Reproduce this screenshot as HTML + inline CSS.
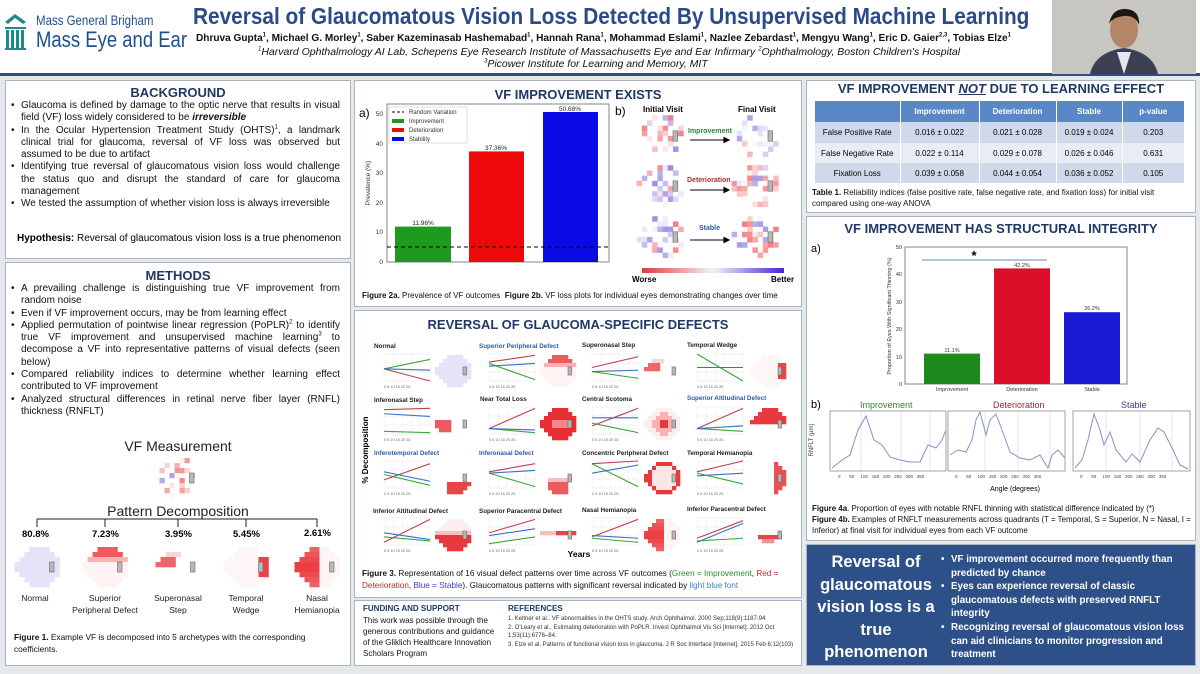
<!DOCTYPE html>
<html><head><meta charset="utf-8">
<style>
*{margin:0;padding:0;box-sizing:border-box}
body{width:1200px;height:674px;overflow:hidden;background:#e6e9ec;font-family:"Liberation Sans",sans-serif;position:relative}
sup{line-height:0}
.p{position:absolute;background:#fff;border:1.5px solid #a9b4c0}
.t{position:absolute;white-space:nowrap}
.h{position:absolute;font-weight:bold;color:#1f3864;font-size:13px;text-align:center;white-space:nowrap}
ul{position:absolute;list-style:none;font-size:10px;line-height:12.3px;color:#111}
ul li{padding-left:11px;position:relative;text-align:justify}
ul li:before{content:"•";position:absolute;left:1px}
.cap{position:absolute;font-size:8.3px;line-height:11.5px;color:#111}
svg{position:absolute;left:0;top:0}
</style></head><body>
<!-- header -->
<div style="position:absolute;left:0;top:0;width:1200px;height:74px;background:#fff"></div>
<div style="position:absolute;left:0;top:73px;width:1200px;height:3px;background:#2d4e7f"></div>
<div class="p" style="left:5px;top:80px;width:346px;height:179px"></div>
<div class="p" style="left:5px;top:262px;width:346px;height:404px"></div>
<div class="p" style="left:354px;top:80px;width:448px;height:227px"></div>
<div class="p" style="left:354px;top:310px;width:448px;height:288px"></div>
<div class="p" style="left:354px;top:600px;width:448px;height:66px"></div>
<div class="p" style="left:806px;top:80px;width:390px;height:133px"></div>
<div class="p" style="left:806px;top:216px;width:390px;height:325px"></div>
<div style="position:absolute;left:806px;top:544px;width:390px;height:122px;background:#2d5089;border:1.5px solid #a9b4c0"></div>

<svg width="1200" height="674" id="g">
<g fill="#1f8a8a"><rect x="6" y="30" width="3" height="18"/><rect x="11" y="30" width="3" height="18"/><rect x="16" y="30" width="3" height="18"/><rect x="21" y="30" width="3" height="18"/><rect x="5" y="27" width="21" height="2"/><polygon points="5,22 15,14 26,22 23,24 15,18 8,24"/><rect x="5" y="48" width="21" height="2"/></g>
<rect x="1052" y="0" width="144" height="74" fill="#b9bab4"/>
<rect x="1052" y="0" width="144" height="74" fill="#d0cfc8" opacity=".6"/>
<path d="M1090 74 Q1095 52 1124 48 Q1153 52 1158 74Z" fill="#3b4152"/>
<polygon points="1117,52 1124,74 1131,52" fill="#e6e8ee"/>
<ellipse cx="1124" cy="30" rx="14" ry="18" fill="#b48668"/>
<path d="M1109 24 Q1112 8 1126 9 Q1140 10 1139 25 Q1135 15 1124 16 Q1113 17 1109 24Z" fill="#1d1714"/>
</svg>

<div class="t" style="left:36px;top:12px;font-size:14px;color:#1e4f8c;transform:scaleX(.82);transform-origin:left">Mass General Brigham</div>
<div class="t" style="left:36px;top:27px;font-size:22px;color:#1e4f8c;transform:scaleX(.84);transform-origin:left">Mass Eye and Ear</div>
<div class="t" style="left:193px;top:3px;font-size:23.5px;font-weight:bold;color:#2b4a8a;transform:scaleX(.885);transform-origin:left">Reversal of Glaucomatous Vision Loss Detected By Unsupervised Machine Learning</div>
<div class="t" style="left:196px;top:33px;font-size:10.2px;font-weight:bold;color:#111;transform:scaleX(.99);transform-origin:left">Dhruva Gupta<sup style="font-size:6px">1</sup>, Michael G. Morley<sup style="font-size:6px">1</sup>, Saber Kazeminasab Hashemabad<sup style="font-size:6px">1</sup>, Hannah Rana<sup style="font-size:6px">1</sup>, Mohammad Eslami<sup style="font-size:6px">1</sup>, Nazlee Zebardast<sup style="font-size:6px">1</sup>, Mengyu Wang<sup style="font-size:6px">1</sup>, Eric D. Gaier<sup style="font-size:6px">2,3</sup>, Tobias Elze<sup style="font-size:6px">1</sup></div>
<div class="t" style="left:258px;top:46px;font-size:10.5px;font-style:italic;color:#111"><sup style="font-size:6px">1</sup>Harvard Ophthalmology AI Lab, Schepens Eye Research Institute of Massachusetts Eye and Ear Infirmary <sup style="font-size:6px">2</sup>Ophthalmology, Boston Children's Hospital</div>
<div class="t" style="left:484px;top:58px;font-size:10.5px;font-style:italic;color:#111"><sup style="font-size:6px">3</sup>Picower Institute for Learning and Memory, MIT</div>

<!-- background -->
<div class="h" style="left:5px;top:85px;width:346px">BACKGROUND</div>
<ul style="left:10px;top:100px;width:330px">
<li>Glaucoma is defined by damage to the optic nerve that results in visual field (VF) loss widely considered to be <b><i>irreversible</i></b></li>
<li>In the Ocular Hypertension Treatment Study (OHTS)<sup style="font-size:6px">1</sup>, a landmark clinical trial for glaucoma, reversal of VF loss was observed but assumed to be due to artifact</li>
<li>Identifying true reversal of glaucomatous vision loss would challenge the status quo and disrupt the standard of care for glaucoma management</li>
<li>We tested the assumption of whether vision loss is always irreversible</li>
</ul>
<div class="t" style="left:17px;top:233px;font-size:10px"><b>Hypothesis:</b> Reversal of glaucomatous vision loss is a true phenomenon</div>

<!-- methods -->
<div class="h" style="left:5px;top:268px;width:346px">METHODS</div>
<ul style="left:10px;top:283px;width:330px">
<li>A prevailing challenge is distinguishing true VF improvement from random noise</li>
<li>Even if VF improvement occurs, may be from learning effect</li>
<li>Applied permutation of pointwise linear regression (PoPLR)<sup style="font-size:6px">2</sup> to identify true VF improvement and unsupervised machine learning<sup style="font-size:6px">3</sup> to decompose a VF into representative patterns of visual defects (seen below)</li>
<li>Compared reliability indices to determine whether learning effect contributed to VF improvement</li>
<li>Analyzed structural differences in retinal nerve fiber layer (RNFL) thickness (RNFLT)</li>
</ul>
<div class="t" style="left:5px;width:346px;text-align:center;top:438px;font-size:14px;color:#222">VF Measurement</div>
<div class="t" style="left:5px;width:346px;text-align:center;top:503px;font-size:14px;color:#222">Pattern Decomposition</div>
<div class="t" style="left:22px;top:529px;font-size:9.5px;font-weight:bold">80.8%</div>
<div class="t" style="left:92px;top:529px;font-size:9.5px;font-weight:bold">7.23%</div>
<div class="t" style="left:165px;top:529px;font-size:9.5px;font-weight:bold">3.95%</div>
<div class="t" style="left:233px;top:529px;font-size:9.5px;font-weight:bold">5.45%</div>
<div class="t" style="left:304px;top:528px;font-size:9.5px;font-weight:bold">2.61%</div>
<div class="t" style="left:0px;width:70px;text-align:center;top:593px;font-size:8.5px;line-height:11.5px;color:#222">Normal</div>
<div class="t" style="left:65px;width:80px;text-align:center;top:593px;font-size:8.5px;line-height:11.5px;color:#222">Superior<br>Peripheral Defect</div>
<div class="t" style="left:138px;width:80px;text-align:center;top:593px;font-size:8.5px;line-height:11.5px;color:#222">Superonasal<br>Step</div>
<div class="t" style="left:206px;width:80px;text-align:center;top:593px;font-size:8.5px;line-height:11.5px;color:#222">Temporal<br>Wedge</div>
<div class="t" style="left:277px;width:80px;text-align:center;top:593px;font-size:8.5px;line-height:11.5px;color:#222">Nasal<br>Hemianopia</div>
<div class="cap" style="left:14px;top:632px;width:320px"><b>Figure 1.</b> Example VF is decomposed into 5 archetypes with the corresponding coefficients.</div>

<!-- VF improvement exists -->
<div class="h" style="left:354px;top:87px;width:448px">VF IMPROVEMENT EXISTS</div>
<div class="t" style="left:359px;top:106px;font-size:12px">a)</div>
<div class="t" style="left:615px;top:104px;font-size:12px">b)</div>
<div class="t" style="left:643px;top:105px;font-size:8px;font-weight:bold">Initial Visit</div>
<div class="t" style="left:738px;top:105px;font-size:8px;font-weight:bold">Final Visit</div>
<div class="t" style="left:688px;top:128px;font-size:7px;font-weight:bold;color:#2a8a2a">Improvement</div>
<div class="t" style="left:687px;top:177px;font-size:7px;font-weight:bold;color:#b03030">Deterioration</div>
<div class="t" style="left:699px;top:225px;font-size:7px;font-weight:bold;color:#2b5aa0">Stable</div>
<div class="t" style="left:632px;top:275px;font-size:8px;font-weight:bold">Worse</div>
<div class="t" style="left:771px;top:275px;font-size:8px;font-weight:bold">Better</div>
<div class="cap" style="left:362px;top:290px;font-size:8px"><b>Figure 2a.</b> Prevalence of VF outcomes&nbsp; <b>Figure 2b.</b> VF loss plots for individual eyes demonstrating changes over time</div>

<!-- reversal -->
<div class="h" style="left:354px;top:317px;width:448px">REVERSAL OF GLAUCOMA-SPECIFIC DEFECTS</div>
<div class="t" style="left:539px;top:549px;font-size:8.5px;font-weight:bold;width:80px;text-align:center">Years</div>
<div class="cap" style="left:362px;top:568px;width:434px;font-size:8.2px"><b>Figure 3.</b> Representation of 16 visual defect patterns over time across VF outcomes (<span style="color:#2a8a2a">Green = Improvement</span>, <span style="color:#c02828">Red = Deterioration</span>, <span style="color:#3a3ad0">Blue = Stable</span>). Glaucomatous patterns with significant reversal indicated by <span style="color:#3a7fd0">light blue font</span></div>

<!-- funding -->
<div class="t" style="left:363px;top:604px;font-size:8px;font-weight:bold;color:#1f3864">FUNDING AND SUPPORT</div>
<div class="cap" style="left:363px;top:615px;width:140px;font-size:8px;line-height:11px">This work was possible through the generous contributions and guidance of the Gliklich Healthcare Innovation Scholars Program</div>
<div class="t" style="left:508px;top:604px;font-size:8px;font-weight:bold;color:#1f3864">REFERENCES</div>
<div class="cap" style="left:508px;top:615px;width:290px;font-size:6px;line-height:8.5px;color:#333">1. Keltner et al.. VF abnormalities in the OHTS study. Arch Ophthalmol. 2000 Sep;118(9):1187-94<br>2. O'Leary et al.. Estimating deterioration with PoPLR. Invest Ophthalmol Vis Sci [Internet]. 2012 Oct 1;53(11):6776–84.<br>3. Elze et al. Patterns of functional vision loss in glaucoma. J R Soc Interface [Internet]. 2015 Feb 6;12(103)</div>

<!-- table -->
<div class="h" style="left:806px;top:81px;width:390px">VF IMPROVEMENT <i><u>NOT</u></i> DUE TO LEARNING EFFECT</div>
<table style="position:absolute;left:815px;top:101px;width:369px;border-collapse:collapse;font-size:8px;text-align:center">
<tr style="background:#5a88c6;color:#fff;font-weight:bold;height:21px"><td style="width:85px;border-right:1.5px solid #fff"></td><td style="width:79px;border-right:1.5px solid #fff">Improvement</td><td style="width:77px;border-right:1.5px solid #fff">Deterioration</td><td style="width:66px;border-right:1.5px solid #fff">Stable</td><td>p-value</td></tr>
<tr style="background:#cfd9ea;height:21px"><td style="border-right:1.5px solid #fff">False Positive Rate</td><td style="border-right:1.5px solid #fff">0.016 ± 0.022</td><td style="border-right:1.5px solid #fff">0.021 ± 0.028</td><td style="border-right:1.5px solid #fff">0.019 ± 0.024</td><td>0.203</td></tr>
<tr style="background:#e8edf5;height:20px"><td style="border-right:1.5px solid #fff">False Negative Rate</td><td style="border-right:1.5px solid #fff">0.022 ± 0.114</td><td style="border-right:1.5px solid #fff">0.029 ± 0.078</td><td style="border-right:1.5px solid #fff">0.026 ± 0.046</td><td>0.631</td></tr>
<tr style="background:#cfd9ea;height:20px"><td style="border-right:1.5px solid #fff">Fixation Loss</td><td style="border-right:1.5px solid #fff">0.039 ± 0.058</td><td style="border-right:1.5px solid #fff">0.044 ± 0.054</td><td style="border-right:1.5px solid #fff">0.036 ± 0.052</td><td>0.105</td></tr>
</table>
<div class="cap" style="left:812px;top:187px;width:380px;font-size:8px;line-height:11px"><b>Table 1.</b> Reliability indices (false positive rate, false negative rate, and fixation loss) for initial visit compared using one-way ANOVA</div>

<!-- structural -->
<div class="h" style="left:806px;top:221px;width:390px">VF IMPROVEMENT HAS STRUCTURAL INTEGRITY</div>
<div class="t" style="left:811px;top:243px;font-size:11px">a)</div>
<div class="t" style="left:811px;top:399px;font-size:11px">b)</div>
<div class="t" style="left:860px;top:400px;font-size:9px;color:#2a8a2a">Improvement</div>
<div class="t" style="left:993px;top:400px;font-size:9px;color:#b02030">Deterioration</div>
<div class="t" style="left:1121px;top:400px;font-size:9px;color:#3a3aa0">Stable</div>
<div class="t" style="left:980px;top:486px;font-size:7px;width:70px;text-align:center">Angle (degrees)</div>
<div class="cap" style="left:812px;top:503px;width:380px;font-size:7.9px;line-height:11px"><b>Figure 4a</b>. Proportion of eyes with notable RNFL thinning with statistical difference indicated by (*)<br><b>Figure 4b.</b> Examples of RNFLT measurements across quadrants (T = Temporal, S = Superior, N = Nasal, I = Inferior) at final visit for individual eyes from each VF outcome</div>

<!-- conclusion -->
<div class="t" style="left:808px;width:136px;text-align:center;top:551px;font-size:16.5px;line-height:22.5px;font-weight:bold;color:#fff;white-space:normal">Reversal of glaucomatous vision loss is a true phenomenon</div>
<ul style="left:940px;top:553px;width:252px;color:#fff;font-size:9.8px;line-height:13.6px;font-weight:bold">
<li style="text-align:left">VF improvement occurred more frequently than predicted by chance</li>
<li style="text-align:left">Eyes can experience reversal of classic glaucomatous defects with preserved RNFLT integrity</li>
<li style="text-align:left">Recognizing reversal of glaucomatous vision loss can aid clinicians to monitor progression and treatment</li>
</ul>

<svg width="1200" height="674" id="s">
<rect x="387" y="104" width="222" height="158" fill="none" stroke="#666" stroke-width=".8"/>
<rect x="395" y="226.6" width="56" height="35.4" fill="#1e9a1e"/>
<rect x="469" y="151.4" width="55" height="110.6" fill="#ee0a0a"/>
<rect x="543" y="112" width="55" height="150" fill="#0a0ae6"/>
<line x1="387" y1="247" x2="609" y2="247" stroke="#000" stroke-dasharray="4,3" stroke-width="1"/>
<g font-size="6.5" fill="#222" text-anchor="middle"><text x="423" y="225">11.96%</text><text x="496" y="150">37.36%</text><text x="570" y="111">50.68%</text></g>
<g font-size="6.5" fill="#333" text-anchor="end"><text x="383" y="264">0</text><text x="383" y="234">10</text><text x="383" y="205">20</text><text x="383" y="175">30</text><text x="383" y="146">40</text><text x="383" y="116">50</text></g>
<text x="370" y="183" font-size="6.5" fill="#333" transform="rotate(-90 370 183)" text-anchor="middle">Prevalence (%)</text>
<rect x="389" y="107" width="78" height="36" fill="#fff" stroke="#ccc" stroke-width=".6"/>
<line x1="392" y1="112" x2="404" y2="112" stroke="#000" stroke-dasharray="3,2"/>
<rect x="392" y="119" width="12" height="4" fill="#1e9a1e"/><rect x="392" y="128" width="12" height="4" fill="#ee0a0a"/><rect x="392" y="137" width="12" height="4" fill="#0a0ae6"/>
<g font-size="6" fill="#333"><text x="409" y="114">Random Variation</text><text x="409" y="123">Improvement</text><text x="409" y="132">Deterioration</text><text x="409" y="141">Stability</text></g>
<g stroke="#000" stroke-width="1.1" fill="#000"><line x1="690" y1="140" x2="725" y2="140"/><polygon points="729,140 724,137.5 724,142.5"/><line x1="690" y1="190" x2="725" y2="190"/><polygon points="729,190 724,187.5 724,192.5"/><line x1="690" y1="240" x2="725" y2="240"/><polygon points="729,240 724,237.5 724,242.5"/></g>
<defs><linearGradient id="cb"><stop offset="0" stop-color="#e23a3a"/><stop offset=".5" stop-color="#f4f2f6"/><stop offset="1" stop-color="#4a22d6"/></linearGradient></defs>
<rect x="642" y="268" width="142" height="5" fill="url(#cb)"/>
<g stroke="#222" stroke-width="1"><line x1="37" y1="519" x2="317" y2="519"/><line x1="37" y1="519" x2="37" y2="527"/><line x1="105" y1="519" x2="105" y2="527"/><line x1="178" y1="519" x2="178" y2="527"/><line x1="246" y1="519" x2="246" y2="527"/><line x1="317" y1="519" x2="317" y2="527"/></g>
<text x="368" y="450" font-size="8" font-weight="bold" transform="rotate(-90 368 450)" text-anchor="middle">% Decomposition</text>
<g font-size="6.3" font-weight="bold" fill="#222">
<text x="374" y="348">Normal</text><text x="479" y="348" fill="#2e5aa8">Superior Peripheral Defect</text><text x="582" y="347">Superonasal Step</text><text x="687" y="347">Temporal Wedge</text>
<text x="374" y="402">Inferonasal Step</text><text x="480" y="401">Near Total Loss</text><text x="582" y="401">Central Scotoma</text><text x="687" y="400" fill="#2e5aa8">Superior Altitudinal Defect</text>
<text x="374" y="455" fill="#2e5aa8">Inferotemporal Defect</text><text x="479" y="455" fill="#2e5aa8">Inferonasal Defect</text><text x="582" y="455">Concentric Peripheral Defect</text><text x="687" y="455">Temporal Hemianopia</text>
<text x="373" y="513">Inferior Altitudinal Defect</text><text x="479" y="513">Superior Paracentral Defect</text><text x="582" y="512">Nasal Hemianopia</text><text x="687" y="511">Inferior Paracentral Defect</text>
</g>
<rect x="905" y="247" width="222" height="137" fill="none" stroke="#666" stroke-width=".8"/>
<rect x="924" y="353.6" width="56" height="30.4" fill="#1e8a1e"/>
<rect x="994" y="268.4" width="56" height="115.6" fill="#dc0f28"/>
<rect x="1064" y="312.2" width="56" height="71.8" fill="#1a1ad2"/>
<line x1="922" y1="260" x2="1047" y2="260" stroke="#6a8aa8" stroke-width="1"/>
<text x="974" y="260" font-size="13" font-weight="bold" text-anchor="middle">*</text>
<g font-size="5.5" fill="#333" text-anchor="middle"><text x="952" y="352">11.1%</text><text x="1022" y="267">42.2%</text><text x="1092" y="310">26.2%</text>
<text x="952" y="391">Improvement</text><text x="1022" y="391">Deterioration</text><text x="1092" y="391">Stable</text></g>
<g font-size="5.5" fill="#333" text-anchor="end"><text x="902" y="386">0</text><text x="902" y="359">10</text><text x="902" y="331">20</text><text x="902" y="304">30</text><text x="902" y="276">40</text><text x="902" y="249">50</text></g>
<text x="891" y="316" font-size="5.5" fill="#333" transform="rotate(-90 891 316)" text-anchor="middle">Proportion of Eyes With Significant Thinning (%)</text>
<text x="813" y="440" font-size="6" fill="#333" transform="rotate(-90 813 440)" text-anchor="middle">RNFLT (μm)</text>
<g fill="none" stroke="#666" stroke-width=".6"><rect x="830" y="411" width="116" height="60"/><rect x="948" y="411" width="117" height="60"/><rect x="1073" y="411" width="117" height="60"/></g>
<g stroke="#ccc" stroke-width=".5"><line x1="861" y1="411" x2="861" y2="471"/><line x1="901" y1="411" x2="901" y2="471"/><line x1="930" y1="411" x2="930" y2="471"/><line x1="985" y1="411" x2="985" y2="471"/><line x1="1018" y1="411" x2="1018" y2="471"/><line x1="1050" y1="411" x2="1050" y2="471"/><line x1="1106" y1="411" x2="1106" y2="471"/><line x1="1140" y1="411" x2="1140" y2="471"/><line x1="1172" y1="411" x2="1172" y2="471"/></g>
<g fill="none" stroke="#8890c8" stroke-width="1">
<polyline points="832,468 842,460 850,455 858,430 866,416 874,440 882,445 890,457 900,460 910,462 920,462 928,445 936,448 942,440 946,430"/>
<polyline points="950,455 958,450 966,452 972,440 976,420 980,412 986,435 990,420 996,414 1002,430 1010,452 1020,458 1030,460 1040,455 1048,468 1052,455 1058,450 1065,458"/>
<polyline points="1075,468 1082,460 1088,440 1094,414 1100,430 1104,445 1110,432 1116,450 1126,462 1132,454 1140,462 1150,440 1158,428 1164,432 1172,448 1180,465 1188,469"/>
</g>
<g font-size="4.5" fill="#444"><text x="838" y="478">0 &#160; &#160; &#160; 50 &#160; &#160; 100 &#160; 150 &#160; 200 &#160; 250 &#160; 300 &#160; 350</text><text x="955" y="478">0 &#160; &#160; &#160; 50 &#160; &#160; 100 &#160; 150 &#160; 200 &#160; 250 &#160; 300 &#160; 350</text><text x="1080" y="478">0 &#160; &#160; &#160; 50 &#160; &#160; 100 &#160; 150 &#160; 200 &#160; 250 &#160; 300 &#160; 350</text></g>
</svg>

<script>
var s=document.getElementById('s'),NS='http://www.w3.org/2000/svg';
function el(t,a){var e=document.createElementNS(NS,t);for(var k in a)e.setAttribute(k,a[k]);s.appendChild(e);return e;}
function col(v){if(v<0){var a=Math.min(1,-v);return 'rgb('+Math.round(255-a*23)+','+Math.round(255-a*220)+','+Math.round(255-a*215)+')';}var b=Math.min(1,v);return 'rgb('+Math.round(255-b*140)+','+Math.round(255-b*160)+','+Math.round(255-b*40)+')';}
var W=[4,6,8,9,9,8,6,4],O=[3,2,1,0,0,1,2,3];
var seed=7;function rnd(){seed=(seed*9301+49297)%233280;return seed/233280;}
function vf(cx,cy,c,fn){var x0=cx-4.5*c,y0=cy-4*c;for(var r=0;r<8;r++)for(var i=0;i<W[r];i++){var cc=O[r]+i;if(cc>8)cc=8;var v=fn(r,cc);if(Math.abs(v)<0.03)continue;el('rect',{x:x0+cc*c,y:y0+r*c,width:c+.3,height:c+.3,fill:col(v)});}
el('rect',{x:x0+7*c,y:y0+3*c,width:c*.9,height:c*2,fill:'#b8b8b8',stroke:'#666','stroke-width':.6});}
function noisy(p,q){return function(r,c){var x=rnd();return x<p?-(rnd()*0.6):(x<p+q?rnd()*0.7:0);};}
var P={
normal:function(){return 0.18},
supPer:function(r,c){return r<=1?-0.75:(r==2?-0.35:-0.06)},
supStep:function(r,c){return (r>=2&&r<=3&&c<=3)?-0.7:(r==1&&c<=4?-0.2:0)},
tempW:function(r,c){return (c>=7&&r>=2&&r<=5)?-0.85:-0.04},
nasalH:function(r,c){return c<=4?-0.9+Math.abs(r-3.5)*0.05:-0.05},
nearT:function(r,c){return (r>=3&&r<=4&&c>=3&&c<=6)?-0.55:-0.95},
central:function(r,c){var d=Math.abs(r-3.5)+Math.abs(c-4.5);return d<2?-0.9:(d<3.5?-0.35:-0.08)},
supAlt:function(r,c){return r<=3?-0.9:0},
infTemp:function(r,c){return (r>=5&&c>=3)?-0.85:0},
infNas:function(r,c){return (r>=4&&c>=2&&c<=6)?-0.75*(r>=5?1:0.4):0},
conc:function(r,c){var e=(r==0||r==7||c<=1||c>=8||O[r]==c||O[r]+W[r]-1==c);return e?-0.9:-0.12},
tempH:function(r,c){return c>=6?-0.8:0},
infAlt:function(r,c){return r>=4?-0.9:(r==3?-0.3:-0.08)},
supPara:function(r,c){return (r==3&&c>=4)?-0.85:(r==3?-0.3:0)},
infStep:function(r,c){return (r>=3&&r<=5&&c<=3)?-0.75:0},
infPara:function(r,c){return (r==4&&c>=2&&c<=6)?-0.85:(r==5&&c>=3&&c<=5?-0.5:0)}
};
seed=11;vf(177,478,5,noisy(0.35,0.05));
vf(37,567,5,P.normal);vf(105,567,5,P.supPer);vf(178,567,5,P.supStep);vf(246,567,5,P.tempW);vf(317,567,5,P.nasalH);
seed=3;vf(660,136,5.2,noisy(0.35,0.1));vf(755,136,5.2,noisy(0.05,0.3));
vf(660,186,5.2,noisy(0.08,0.45));vf(755,186,5.2,noisy(0.5,0.15));
vf(660,237,5.2,noisy(0.1,0.35));vf(755,237,5.2,noisy(0.35,0.2));
var cols=[[375,453],[480,558],[583,662],[688,768]],rows=[346,399,453,510];
var D=[
['normal',[.55,.2,.55,1,.55,.6]],['supPer',[.35,.95,.3,.05,.45,.35]],['supStep',[.65,.9,.5,.1,.65,.6]],['tempW',[0,1,.5,.5,.5,.5]],
['infStep',[.9,.95,.1,.05,.25,.35]],['nearT',[.8,.95,.8,.05,.8,.85]],['central',[.6,.95,.7,.05,.4,.4]],['supAlt',[.8,.9,.8,.05,.8,.7]],
['infTemp',[.5,.9,.7,.1,.4,.75]],['infNas',[.45,.95,.4,.1,.45,.35]],['conc',[.1,.95,.1,0,.45,.15]],['tempH',[.45,.85,.4,0,.55,.45]],
['infAlt',[.7,.85,.9,.05,.55,.8]],['supPara',[.95,.7,.55,.05,.65,.4]],['nasalH',[.75,.9,.7,.05,.65,.75]],['infPara',[.85,.75,.75,.1,.9,.2]]];
for(var k=0;k<16;k++){var rr=Math.floor(k/4),cl=k%4,x=cols[cl][0]+9,y=rows[rr]+8,w=46,h=27;
for(var g=0;g<4;g++)el('line',{x1:x,x2:x+w,y1:y+g*h/3,y2:y+g*h/3,stroke:'#e4e4e4','stroke-width':.5});
for(var g=0;g<6;g++)el('line',{x1:x+g*w/5,x2:x+g*w/5,y1:y,y2:y+h,stroke:'#eee','stroke-width':.5});
var L=D[k][1],cs=['#3aa83a','#c04050','#3a70c8'];
for(var j=0;j<3;j++)el('line',{x1:x,y1:y+L[2*j]*h,x2:x+w,y2:y+L[2*j+1]*h,stroke:cs[j],'stroke-width':1.1});
var t=el('text',{x:x,y:y+h+7,'font-size':3.8,fill:'#666'});t.textContent='0    5    10    15    20    25';
vf(cols[cl][1],rows[rr]+25,4,P[D[k][0]]);}
</script>
</body></html>
